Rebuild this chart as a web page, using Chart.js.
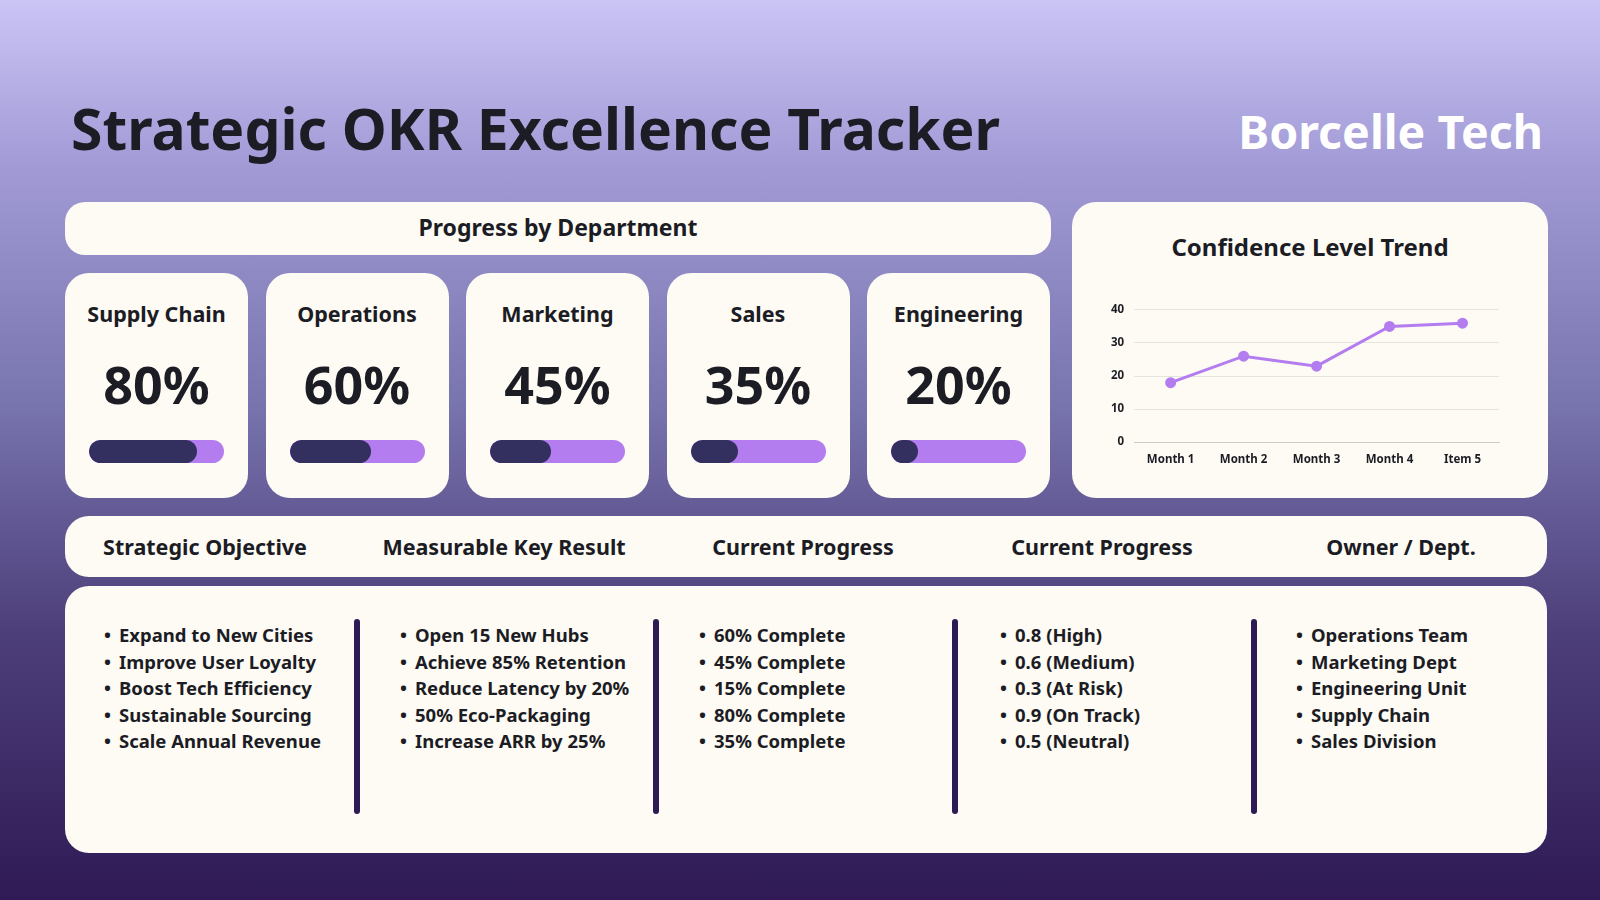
<!DOCTYPE html>
<html><head><meta charset="utf-8">
<script src="https://cdn.jsdelivr.net/npm/chart.js@4.4.0/dist/chart.umd.min.js"></script>
<style>
*{margin:0;padding:0;box-sizing:border-box}
body{width:1600px;height:900px;overflow:hidden;font-family:"Noto Sans",Lato,sans-serif;color:#1c1c24;
background:linear-gradient(180deg,#cbc5f6 0%,#a29bd6 18%,#7874ae 45%,#4d3f7a 70%,#2f1a55 100%);position:relative}
.abs{position:absolute}
.card{position:absolute;background:#fdfbf4;border-radius:24px}
h1{position:absolute;left:71px;top:89px;font-size:57px;font-weight:700;color:#1c1c24}
.brand{position:absolute;right:57px;top:99px;font-size:46.5px;font-weight:700;color:#fff}
.dept{text-align:center}
.dept .n{margin-top:26px;font-size:21.5px;font-weight:700}
.dept .p{margin-top:20px;font-size:52px;font-weight:700}
.bar{position:absolute;left:24px;right:24px;top:167px;height:23px;border-radius:12px;background:#b37df0;overflow:hidden}
.bar div{height:100%;background:#33305f;border-radius:12px}
.hd{position:absolute;top:16px;font-size:21.5px;font-weight:700;transform:translateX(-50%);white-space:nowrap}
ul{position:absolute;top:36px;list-style:none;font-size:18.5px;font-weight:700;line-height:26.5px}
ul li:before{content:"•";margin-right:8px}
.div{position:absolute;top:33px;width:6px;height:195px;background:#2e1a55;border-radius:3px}
</style></head><body>
<h1>Strategic OKR Excellence Tracker</h1>
<div class="brand">Borcelle Tech</div>
<div class="card" style="left:65px;top:202px;width:986px;height:53px;border-radius:20px;text-align:center;font-size:23px;font-weight:700;line-height:51px">Progress by Department</div>
<div id="depts"></div>
<div class="card" style="left:1072px;top:202px;width:476px;height:296px">
 <div class="abs" style="left:0;right:0;top:28px;text-align:center;font-size:24px;font-weight:700">Confidence Level Trend</div>
 <div class="abs" style="left:29px;top:91px;width:405px;height:177px"><canvas id="c"></canvas></div>
</div>
<div class="card" id="hdr" style="left:65px;top:516px;width:1482px;height:61px"></div>
<div class="card" id="body" style="left:65px;top:586px;width:1482px;height:267px"></div>
<script>
const departments=["Supply Chain","Operations","Marketing","Sales","Engineering"];
const deptProgress=[80,60,45,35,20];
const months=["Month 1","Month 2","Month 3","Month 4","Item 5"];
const confidence=[18,26,23,35,36];
const headers=["Strategic Objective","Measurable Key Result","Current Progress","Current Progress","Owner / Dept."];
const objectives=["Expand to New Cities","Improve User Loyalty","Boost Tech Efficiency","Sustainable Sourcing","Scale Annual Revenue"];
const keyResults=["Open 15 New Hubs","Achieve 85% Retention","Reduce Latency by 20%","50% Eco-Packaging","Increase ARR by 25%"];
const progressText=["60% Complete","45% Complete","15% Complete","80% Complete","35% Complete"];
const confidenceText=["0.8 (High)","0.6 (Medium)","0.3 (At Risk)","0.9 (On Track)","0.5 (Neutral)"];
const owners=["Operations Team","Marketing Dept","Engineering Unit","Supply Chain","Sales Division"];

let h='';
departments.forEach((d,i)=>{
 h+=`<div class="card dept" style="left:${65+i*200.5}px;top:273px;width:183px;height:225px"><div class="n">${d}</div><div class="p">${deptProgress[i]}%</div><div class="bar"><div style="width:${deptProgress[i]}%"></div></div></div>`;
});
document.getElementById('depts').innerHTML=h;
const centers=[140,439,738,1037,1336];
document.getElementById('hdr').innerHTML=headers.map((t,i)=>`<div class="hd" style="left:${centers[i]}px">${t}</div>`).join('');
const lists=[objectives,keyResults,progressText,confidenceText,owners];
const lefts=[39,335,634,935,1231];
let b=lists.map((l,i)=>`<ul style="left:${lefts[i]}px">${l.map(x=>`<li>${x}</li>`).join('')}</ul>`).join('');
[292,591,890,1189].forEach(x=>b+=`<div class="div" style="left:${x-3}px"></div>`);
document.getElementById('body').innerHTML=b;

new Chart(document.getElementById('c'),{type:'line',
 data:{labels:months,datasets:[{data:confidence,borderColor:'#b37df0',backgroundColor:'#b37df0',borderWidth:3,pointRadius:4,pointHoverRadius:4,tension:0}]},
 options:{responsive:true,maintainAspectRatio:false,animation:false,
  plugins:{legend:{display:false},tooltip:{enabled:false}},
  scales:{x:{offset:true,grid:{display:false},border:{color:'#ccc'},ticks:{color:'#1c1c24',font:{family:'Noto Sans',size:11.5,weight:'bold'}}},
   y:{min:0,max:40,ticks:{stepSize:10,padding:10,color:'#1c1c24',font:{family:'Noto Sans',size:11.5,weight:'bold'}},grid:{color:'#e6e4de',drawTicks:false},border:{display:false}}}}});
</script>
</body></html>
